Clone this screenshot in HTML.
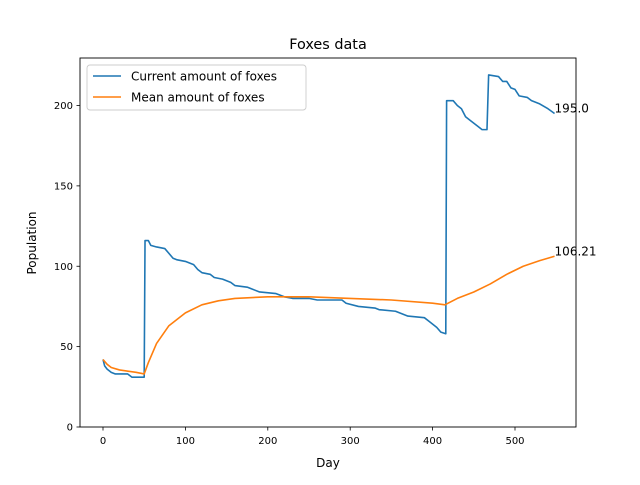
<!DOCTYPE html>
<html><head><meta charset="utf-8"><style>
body{margin:0;background:#fff;font-family:"Liberation Sans","DejaVu Sans",sans-serif}
svg text{font-family:"DejaVu Sans","Liberation Sans",sans-serif;fill:#000}
</style></head><body>
<svg id="chart" width="640" height="480" viewBox="0 0 640 480" xmlns="http://www.w3.org/2000/svg">
<rect width="640" height="480" fill="#fff"/>
<text x="328" y="49" font-size="14.4" text-anchor="middle">Foxes data</text>
<g id="ticks"></g>
<g id="lines"></g>
<rect x="80" y="58" width="496" height="369" fill="none" stroke="#000" stroke-width="0.9"/>
<text x="328" y="467" font-size="12" text-anchor="middle">Day</text>
<text transform="translate(36,243) rotate(-90)" font-size="12" text-anchor="middle">Population</text>
<g>
<rect x="87" y="65" width="219" height="45" rx="3" fill="#fff" stroke="#ccc" stroke-width="0.9"/>
<line x1="93" y1="76" x2="121" y2="76" stroke="#1f77b4" stroke-width="1.6"/>
<text x="131" y="80.5" font-size="12">Current amount of foxes</text>
<line x1="93" y1="97" x2="121" y2="97" stroke="#ff7f0e" stroke-width="1.6"/>
<text x="131" y="101.5" font-size="12">Mean amount of foxes</text>
</g>
</svg>
<script>
const xTicks=[0,100,200,300,400,500];
const yTicks=[0,50,100,150,200];
const currentDays=[0,2,5,10,15,30,35,50,51,55,58,65,75,80,85,90,100,110,115,120,130,135,145,155,160,175,180,190,210,220,230,250,260,290,295,310,330,335,355,360,370,390,395,400,405,410,416,417,425,430,435,440,445,455,460,466,468,480,485,490,495,500,505,515,520,530,540,548];
const currentValues=[42,38,36,34,33,33,31,31,116,116,113,112,111,108,105,104,103,101,98,96,95,93,92,90,88,87,86,84,83,81,80,80,79,79,77,75,74,73,72,71,69,68,66,64,62,59,58,203,203,200,198,193,191,187,185,185,219,218,215,215,211,210,206,205,203,201,198,195];
const meanDays=[0,5,10,20,40,50,55,65,80,100,120,140,160,200,250,300,350,400,415,430,450,470,490,510,530,548];
const meanValues=[42,39,37,35.5,34,33,40,52,63,71,76,78.5,80,81,81,80,79,77,76,80,84,89,95,100,103.5,106.21];
const endLabels=["195.0","106.21"];
const X=d=>103+d*0.824, Y=v=>427-v*1.6075;
const NS="http://www.w3.org/2000/svg";
const tg=document.getElementById('ticks'), lg=document.getElementById('lines');
function mk(tag,attrs,parent){const e=document.createElementNS(NS,tag);for(const k in attrs)e.setAttribute(k,attrs[k]);parent.appendChild(e);return e;}
xTicks.forEach(t=>{
 const l=mk('line',{x1:X(t),x2:X(t),y1:427,y2:430.5,stroke:'#000','stroke-width':0.8},tg);
 
 
 const s=mk('text',{x:X(t),y:444,'font-size':10,'text-anchor':'middle'},tg);s.textContent=t;
 
 
});
yTicks.forEach(t=>{
 const l=mk('line',{x1:76.5,x2:80,y1:Y(t),y2:Y(t),stroke:'#000','stroke-width':0.8},tg);
 
 
 const s=mk('text',{x:73,y:Y(t)+3.5,'font-size':10,'text-anchor':'end'},tg);s.textContent=t;
 
 
});
function series(days,vals,color,name){
 const p=mk('polyline',{points:days.map((d,i)=>X(d)+','+Y(vals[i])).join(' '),fill:'none',stroke:color,'stroke-width':1.6,'stroke-linejoin':'round'},lg);
 
 
}
series(currentDays,currentValues,'#1f77b4','current-foxes-line');
series(meanDays,meanValues,'#ff7f0e','mean-foxes-line');
const a=mk('text',{x:X(currentDays[currentDays.length-1]),y:Y(currentValues[currentValues.length-1])-1,'font-size':12},lg);a.textContent=endLabels[0];


const b=mk('text',{x:X(meanDays[meanDays.length-1]),y:Y(meanValues[meanValues.length-1])-1,'font-size':12},lg);b.textContent=endLabels[1];


</script>
</body></html>
